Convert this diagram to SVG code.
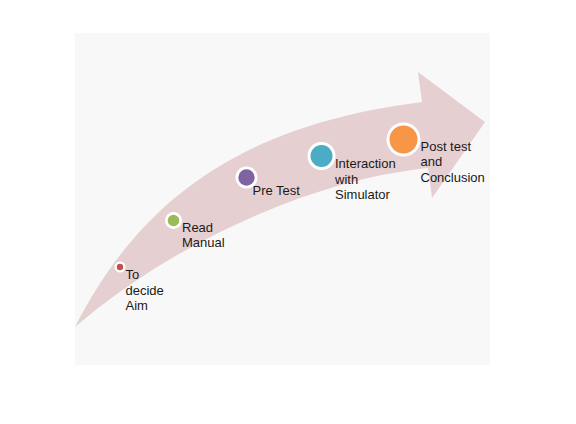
<svg xmlns="http://www.w3.org/2000/svg" width="576" height="424" viewBox="0 0 576 424">
<style>
.lbl{font-family:"Liberation Sans",Arial,sans-serif;font-size:13px;fill:#1a1a1a}
.ring{fill:#ffffff}
</style>
<rect width="576" height="424" fill="#ffffff"/>
<rect x="75" y="33" width="415" height="332" fill="#f8f8f8"/>
<g id="arrow">
<path d="M75,327 C140,200 240,125 422,102 L418,72 L485,122 L432,198 L428,168 C310,180 170,245 75,327 Z" fill="#e6cfd1"/>
</g>
<g id="step1">
<circle class="ring" cx="120" cy="267" r="5.5"/>
<circle cx="120" cy="267" r="3.2" fill="#c0504d"/>
<text class="lbl" x="125.5" y="279">To</text>
<text class="lbl" x="125.5" y="295">decide</text>
<text class="lbl" x="125.5" y="310">Aim</text>
</g>
<g id="step2">
<circle class="ring" cx="173.5" cy="220.5" r="8.5"/>
<circle cx="173.5" cy="220.5" r="5.8" fill="#9bbb59"/>
<text class="lbl" x="182" y="232">Read</text>
<text class="lbl" x="182" y="247">Manual</text>
</g>
<g id="step3">
<circle class="ring" cx="246.5" cy="177.5" r="11"/>
<circle cx="246.5" cy="177.5" r="8.2" fill="#8064a2"/>
<text class="lbl" x="252.5" y="195">Pre Test</text>
</g>
<g id="step4">
<circle class="ring" cx="321.5" cy="156" r="14"/>
<circle cx="321.5" cy="156" r="11" fill="#4bacc6"/>
<text class="lbl" x="335" y="168">Interaction</text>
<text class="lbl" x="335" y="183.5">with</text>
<text class="lbl" x="335" y="199">Simulator</text>
</g>
<g id="step5">
<circle class="ring" cx="403.5" cy="139.5" r="17"/>
<circle cx="403.5" cy="139.5" r="14" fill="#f79646"/>
<text class="lbl" x="420.5" y="151">Post test</text>
<text class="lbl" x="420.5" y="166">and</text>
<text class="lbl" x="420.5" y="181.5">Conclusion</text>
</g>
<g id="connectors"></g>
</svg>
